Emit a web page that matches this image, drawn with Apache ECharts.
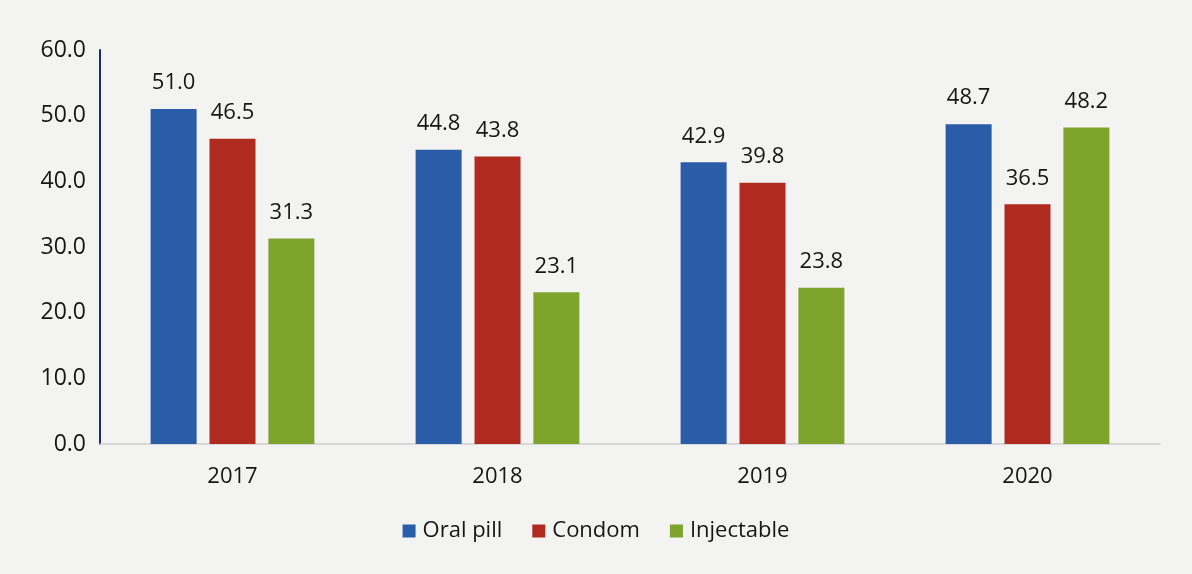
<!DOCTYPE html>
<html>
<head>
<meta charset="utf-8">
<script src="https://cdn.jsdelivr.net/npm/echarts@6/dist/echarts.min.js"></script>
<style>
  html, body { margin: 0; padding: 0; background: #f3f3f2; }
  #chart { width: 1192px; height: 574px; }
</style>
</head>
<body>
<div id="chart"></div>
<script>
// Contraceptive method shares by year (%)
const years = ['2017', '2018', '2019', '2020'];
const oralPill = [51.0, 44.8, 42.9, 48.7];
const condom = [46.5, 43.8, 39.8, 36.5];
const injectable = [31.3, 23.1, 23.8, 48.2];
const yTicks = { min: 0, max: 60, interval: 10 };

const FONT = '"Open Sans", "Liberation Sans", sans-serif';
const INK = '#161616';

function barSeries(name, data, color) {
  return {
    name: name,
    type: 'bar',
    data: data,
    barWidth: 46,
    barGap: '28%',
    itemStyle: { color: color },
    label: {
      show: true,
      position: 'top',
      distance: 15,
      fontFamily: FONT,
      fontSize: 22,
      color: INK,
      formatter: p => p.value.toFixed(1)
    }
  };
}

const chart = echarts.init(document.getElementById('chart'));
chart.setOption({
  backgroundColor: '#f3f3f2',
  animation: false,
  grid: { left: 100, right: 32, top: 50, bottom: 130 },
  legend: {
    bottom: 27,
    left: 'center',
    itemWidth: 13,
    itemHeight: 13,
    itemGap: 30,
    icon: 'rect',
    textStyle: { fontFamily: FONT, fontSize: 22, color: INK, padding: [0, 0, 0, 2] },
    data: ['Oral pill', 'Condom', 'Injectable']
  },
  xAxis: {
    type: 'category',
    data: years,
    axisLine: { show: true, lineStyle: { color: '#cfcfcf', width: 1.5 } },
    axisTick: { show: false },
    axisLabel: { margin: 22, fontFamily: FONT, fontSize: 22, color: INK }
  },
  yAxis: {
    type: 'value',
    min: yTicks.min,
    max: yTicks.max,
    interval: yTicks.interval,
    axisLine: { show: true, lineStyle: { color: '#1a2a6e', width: 2 } },
    axisTick: { show: false },
    splitLine: { show: false },
    axisLabel: {
      margin: 14,
      fontFamily: FONT,
      fontSize: 23,
      color: INK,
      formatter: v => v.toFixed(1)
    }
  },
  series: [
    barSeries('Oral pill', oralPill, '#2a5ca8'),
    barSeries('Condom', condom, '#b02a20'),
    barSeries('Injectable', injectable, '#7ea42e')
  ]
});
</script>
</body>
</html>
